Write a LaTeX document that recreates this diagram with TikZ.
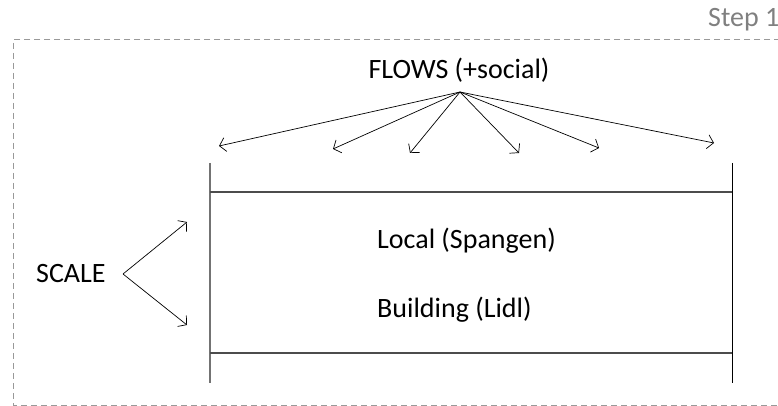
\documentclass[tikz,border=0pt]{standalone}
\usepackage{fontspec}
\setmainfont{Carlito}
\usetikzlibrary{arrows.meta}
\begin{document}
\begin{tikzpicture}[x=1pt,y=-1pt,
  lbl/.style={font=\fontsize{28}{32}\selectfont, inner sep=0pt},
  arr/.style={line width=0.7pt, -{Straight Barb[length=6pt,width=14pt]}},
  rule/.style={line width=1.1pt, draw=black!70},
  frame/.style={draw=black!40, line width=1pt, dash pattern=on 6pt off 4pt}]
\useasboundingbox (0,0) rectangle (778,406);
% dashed frame
\draw[frame] (790,40) -- (13,40) -- (13,405) -- (790,405);
\node[lbl, text=black!50, anchor=base west] (step) at (708,27) {Step 1};
% flows
\node[lbl, anchor=base] (flows) at (459,79) {FLOWS (+social)};
\coordinate (o) at (460,92);
\coordinate (t1) at (219,146);
\coordinate (t2) at (333,149);
\coordinate (t3) at (410,153);
\coordinate (t4) at (519,153);
\coordinate (t5) at (599,148);
\coordinate (t6) at (714,143);
\foreach \t in {t1,t2,t3,t4,t5,t6} \draw[arr] (o) -- (\t);
% frame lines
\coordinate (a1) at (210,163);
\coordinate (a2) at (210,383);
\coordinate (b1) at (732,163);
\coordinate (b2) at (732,383);
\coordinate (h1l) at (210,192);
\coordinate (h1r) at (732,192);
\coordinate (h2l) at (210,353);
\coordinate (h2r) at (732,353);
\draw[line width=1.3pt, draw=black!55] (a1) -- (a2);
\draw[line width=0.8pt, draw=black] (b1) -- (b2);
\draw[rule] (h1l) -- (h1r);
\draw[rule] (h2l) -- (h2r);
\node[lbl, anchor=base west] (local) at (377,248) {Local (Spangen)};
\node[lbl, anchor=base west] (bldg) at (377,317) {Building (Lidl)};
% scale
\node[lbl, anchor=base west] (scale) at (36,282) {SCALE};
\coordinate (so) at (123,274);
\coordinate (s1) at (187,222);
\coordinate (s2) at (187,325);
\draw[arr] (so) -- (s1);
\draw[arr] (so) -- (s2);
\end{tikzpicture}
\end{document}
